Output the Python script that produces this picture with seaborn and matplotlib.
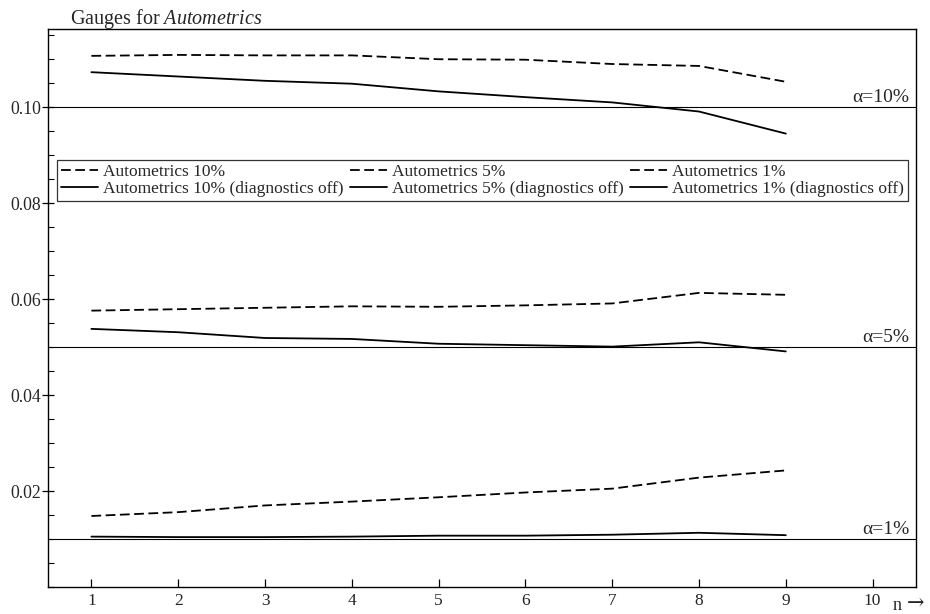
import numpy as np
import pandas as pd
import matplotlib
matplotlib.use("Agg")
import matplotlib.pyplot as plt
import seaborn as sns
from matplotlib.ticker import MultipleLocator, FixedLocator, FormatStrFormatter
from matplotlib.lines import Line2D

n = [1, 2, 3, 4, 5, 6, 7, 8, 9]
auto10 = [0.1107, 0.1109, 0.1108, 0.1108, 0.1100, 0.1099, 0.1090, 0.1086, 0.1053]
auto10_off = [0.1073, 0.1064, 0.1055, 0.1049, 0.1033, 0.1021, 0.1010, 0.0991, 0.0945]
auto5 = [0.0576, 0.0579, 0.0582, 0.0585, 0.0584, 0.0587, 0.0591, 0.0613, 0.0609]
auto5_off = [0.0538, 0.0531, 0.0519, 0.0517, 0.0507, 0.0504, 0.0501, 0.0510, 0.0491]
auto1 = [0.0148, 0.0156, 0.0170, 0.0178, 0.0187, 0.0197, 0.0205, 0.0228, 0.0243]
auto1_off = [0.0105, 0.0104, 0.0104, 0.0105, 0.0107, 0.0107, 0.0109, 0.0113, 0.0108]
alphas = [0.10, 0.05, 0.01]
alpha_labels = ["α=10%", "α=5%", "α=1%"]
series_names = ["Autometrics 10%", "Autometrics 10% (diagnostics off)",
                "Autometrics 5%", "Autometrics 5% (diagnostics off)",
                "Autometrics 1%", "Autometrics 1% (diagnostics off)"]
x_ticks = [1, 2, 3, 4, 5, 6, 7, 8, 9, 10]
y_ticks = [0.02, 0.04, 0.06, 0.08, 0.10]

sns.set_theme(style="ticks")
plt.rcParams["font.family"] = ["Liberation Serif", "DejaVu Serif"]
plt.rcParams["mathtext.fontset"] = "custom"
plt.rcParams["mathtext.rm"] = "Liberation Serif"
plt.rcParams["mathtext.it"] = "Liberation Serif:italic"

fig = plt.figure(figsize=(9.3, 6.14), dpi=100)
ax = fig.add_axes([48/930, 1 - 587/614, 868/930, 558/614])

LW = 1.3
DASH = [5.4, 2.5]
all_series = [auto10, auto10_off, auto5, auto5_off, auto1, auto1_off]
handles = []
for name, vals in zip(series_names, all_series):
    off = "off" in name
    df = pd.DataFrame({"n": n, "v": vals})
    sns.lineplot(data=df, x="n", y="v", ax=ax, color="black", lw=LW,
                 linestyle="-" if off else "--", legend=False)
    line = ax.lines[-1]
    h = Line2D([], [], color="black", lw=LW, linestyle="-" if off else "--")
    if not off:
        line.set_dashes(DASH)
        h.set_dashes(DASH)
    handles.append(h)

for a, lab in zip(alphas, alpha_labels):
    ax.axhline(a, color="black", lw=0.8)
    ax.text(0.992, a + 0.00105, lab, transform=ax.get_yaxis_transform(),
            ha="right", va="baseline", fontsize=14)

ax.set_xlim(0.5, 10.5)
ax.set_ylim(0, 0.1163)
ax.set_xticks(x_ticks)
ax.yaxis.set_major_locator(FixedLocator(y_ticks))
ax.yaxis.set_minor_locator(MultipleLocator(0.005))
ax.yaxis.set_major_formatter(FormatStrFormatter("%.2f"))
ax.tick_params(axis="y", which="major", direction="inout", length=9, width=0.9,
               labelsize=12.8, pad=0.5, color="black")
ax.tick_params(axis="y", which="minor", direction="in", length=4, width=0.8,
               color="black")
ax.tick_params(axis="x", which="major", direction="in", length=6, width=0.9,
               labelsize=12.5, pad=4, color="black")
ax.set_xlabel("")
ax.set_ylabel("")
for s in ax.spines.values():
    s.set_color("black")
    s.set_linewidth(1.0)

leg = ax.legend(handles, series_names, ncol=3,
                loc="upper left", bbox_to_anchor=(0.0104, 0.765),
                frameon=True, fancybox=False, edgecolor="black",
                fontsize=12.5, handlelength=2.15, handletextpad=0.28,
                borderpad=0.22, labelspacing=0.07, borderaxespad=0,
                columnspacing=0.35)
leg.get_frame().set_linewidth(0.9)

fig.text(70/930, 1 - 24/614, r"Gauges for $\mathit{Autometrics}$", fontsize=14.5,
         ha="left", va="baseline")
fig.text(893/930, 1 - 610/614, "n", fontsize=13, ha="left", va="baseline")
fig.text(907/930, 1 - 609/614, "→", fontsize=15, ha="left", va="baseline",
         family=["DejaVu Serif"])

fig.savefig("out.png", dpi=100)
